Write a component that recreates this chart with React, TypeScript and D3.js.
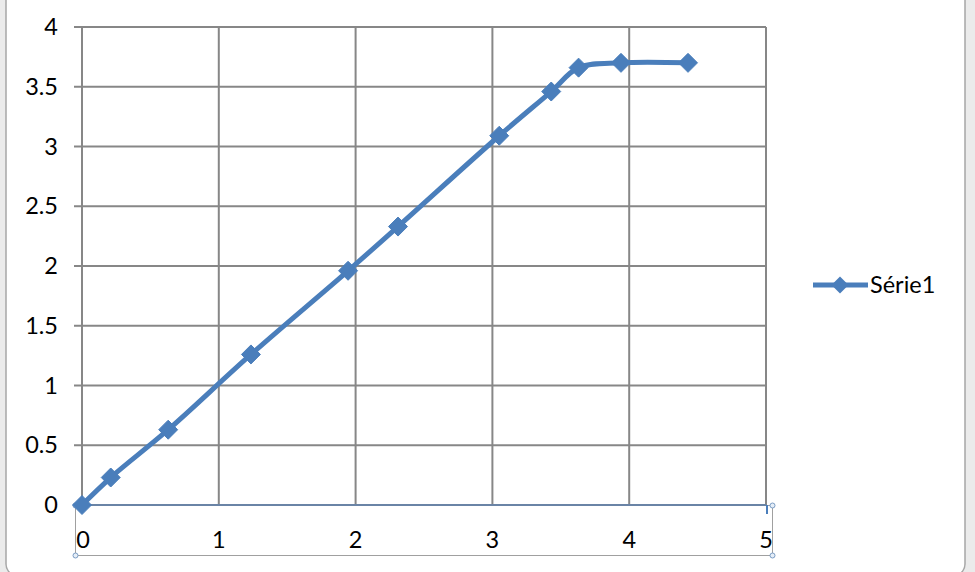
import React from "react";
import * as d3 from "d3";

const xValues = [0, 0.21, 0.63, 1.235, 1.945, 2.31, 3.05, 3.43, 3.63, 3.94, 4.43];
const yValues = [0, 0.23, 0.63, 1.26, 1.96, 2.33, 3.09, 3.46, 3.66, 3.70, 3.70];
const xTicks = [0, 1, 2, 3, 4, 5];
const yTicks = [0, 0.5, 1, 1.5, 2, 2.5, 3, 3.5, 4];
const seriesName = "Série1";

const W = 975;
const H = 572;
const FONT = "Lato, 'Open Sans', sans-serif";

export default function App() {
  const x = d3.scaleLinear().domain([0, 5]).range([82, 766]);
  const y = d3.scaleLinear().domain([0, 4]).range([505, 27]);
  const pts: [number, number][] = xValues.map((v, i) => [x(v), y(yValues[i])]);
  const line = d3.line().curve(d3.curveCatmullRom.alpha(0.5));
  const blue = "#4a7ebb";
  const grid = "#878787";
  const diamond = (cx: number, cy: number, r: number) =>
    `M${cx},${cy - r}L${cx + r},${cy}L${cx},${cy + r}L${cx - r},${cy}Z`;

  return (
    <svg
      width={W}
      height={H}
      style={{ position: "absolute", left: 0, top: 0, display: "block" }}
      fontFamily={FONT}
    >
      <rect x={0} y={0} width={W} height={H} fill="#ebebeb" />
      <rect x={6} y={-20} width={959} height={596} rx={12} fill="#ffffff" stroke="#a6a6a6" strokeWidth={1.5} />
      {/* horizontal gridlines */}
      {yTicks.map((t) => (
        <line key={"h" + t} x1={t === 0 ? 82 : 74} x2={766} y1={y(t)} y2={y(t)} stroke={grid} strokeWidth={2} />
      ))}
      {/* vertical gridlines */}
      {xTicks.map((t) => (
        <line key={"v" + t} x1={x(t)} x2={x(t)} y1={27} y2={505} stroke={grid} strokeWidth={2} />
      ))}
      {/* selected x axis */}
      <rect x={75.5} y={505.5} width={697} height={50} fill="none" stroke="#a0a0a0" strokeWidth={1} />
      <line x1={76} x2={766} y1={505} y2={505} stroke="#6a84a6" strokeWidth={2} />
      <line x1={767} x2={767} y1={505} y2={514} stroke={blue} strokeWidth={2} />
      {[[75.5, 505.5], [772.5, 505.5], [75.5, 555.5], [772.5, 555.5]].map(([cx, cy], i) => (
        <circle key={"hd" + i} cx={cx} cy={cy} r={2.5} fill="#e6eef7" stroke="#7a9cc4" strokeWidth={1} />
      ))}
      {/* y labels */}
      {yTicks.map((t) => (
        <text key={"yl" + t} x={58} y={y(t)} dy="0.35em" textAnchor="end" fontSize={23.5} fill="#000">
          {String(t)}
        </text>
      ))}
      {/* x labels */}
      {xTicks.map((t) => (
        <text key={"xl" + t} x={x(t) + (t === 0 ? 1 : 0)} y={548} textAnchor="middle" fontSize={23.5} fill="#000">
          {String(t)}
        </text>
      ))}
      {/* series */}
      <path d={line(pts) || ""} fill="none" stroke={blue} strokeWidth={5} strokeLinejoin="round" />
      {pts.map(([cx, cy], i) => (
        <path key={"m" + i} d={diamond(cx, cy, 9.5)} fill={blue} stroke={blue} strokeWidth={1} />
      ))}
      {/* legend */}
      <line x1={813} x2={868} y1={285} y2={285} stroke={blue} strokeWidth={5} />
      <path d={diamond(840, 285, 8.5)} fill={blue} />
      <text x={870} y={285} dy="0.35em" fontSize={23.5} fill="#000">
        {seriesName}
      </text>
    </svg>
  );
}
